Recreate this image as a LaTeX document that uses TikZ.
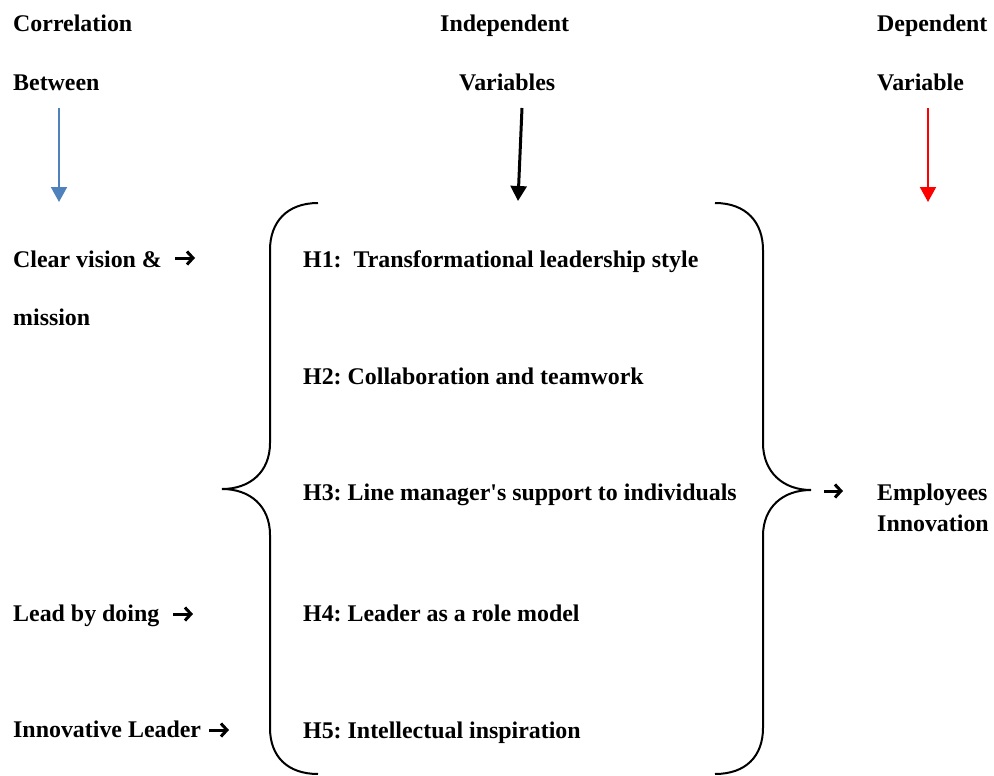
\documentclass[tikz,border=0pt]{standalone}
\usepackage{fontspec}
\setmainfont{Liberation Serif}
\usetikzlibrary{arrows.meta}
\definecolor{vblue}{HTML}{4F81BD}
\frenchspacing
\begin{document}
\begin{tikzpicture}[x=1pt,y=-1pt,
  lbl/.style={anchor=base west,inner sep=0pt,font=\fontsize{23.9}{28}\selectfont\bfseries\frenchspacing},
  glyphar/.style={line width=3pt,-{Straight Barb[length=6pt,width=13pt,line width=3pt]}},
  brace/.style={line width=2pt},
  downarrow/.style={-{Triangle[width=16pt,length=15pt]}}]
\useasboundingbox (0,0) rectangle (994,776);
% headers
\node[lbl] (corr) at (13,32) {Correlation};
\node[lbl] (betw) at (13,90.5) {Between};
\node[lbl] (indep) at (440,32) {Independent};
\node[lbl] (vars) at (459,90.5) {Variables};
\node[lbl] (dep) at (877,32) {Dependent};
\node[lbl] (var) at (877,90.5) {Variable};
% header arrows
\coordinate (b1) at (59,108); \coordinate (b2) at (59,202);
\coordinate (k1) at (522,108); \coordinate (k2) at (518,201);
\coordinate (r1) at (928,108); \coordinate (r2) at (928,202);
\draw[downarrow,vblue,line width=2pt] (b1) -- (b2);
\draw[downarrow,black,line width=3pt] (k1) -- (k2);
\draw[downarrow,red,line width=2pt] (r1) -- (r2);
% left column
\node[lbl] (clear) at (13,267) {Clear vision \&};
\coordinate (a1s) at (175,258); \coordinate (a1e) at (195,258);
\draw[glyphar] (a1s) -- (a1e);
\node[lbl] (miss) at (13,325) {mission};
\node[lbl] (lead) at (13,621) {Lead by doing};
\coordinate (a2s) at (173,614); \coordinate (a2e) at (193,614);
\draw[glyphar] (a2s) -- (a2e);
\node[lbl] (innl) at (13,737) {Innovative Leader};
\coordinate (a3s) at (209,730); \coordinate (a3e) at (229,730);
\draw[glyphar] (a3s) -- (a3e);
% hypotheses
\node[lbl] (h1) at (303,267) {H1:\ \ Transformational leadership style};
\node[lbl] (h2) at (303,384) {H2: Collaboration and teamwork};
\node[lbl] (h3) at (303,500) {H3: Line manager\textquotesingle s support to individuals};
\node[lbl] (h4) at (303,621) {H4: Leader as a role model};
\node[lbl] (h5) at (303,738) {H5: Intellectual inspiration};
% braces
\draw[brace] (318,203) .. controls (287,203) and (270,222) .. (270,250) -- (270,443)
  .. controls (270,472) and (250,489) .. (222,489)
  .. controls (250,489) and (270,506) .. (270,535) -- (270,728)
  .. controls (270,756) and (287,774) .. (318,774);
\draw[brace] (715,203) .. controls (746,203) and (763,222) .. (763,250) -- (763,443)
  .. controls (763,472) and (783,490) .. (811,490)
  .. controls (783,490) and (763,507) .. (763,536) -- (763,728)
  .. controls (763,756) and (746,774) .. (715,774);
% dependent
\coordinate (a4s) at (824,491); \coordinate (a4e) at (843,491);
\draw[glyphar] (a4s) -- (a4e);
\node[lbl] (emp) at (877,500) {Employees};
\node[lbl] (inn) at (877,531) {Innovation};
\end{tikzpicture}
\end{document}
